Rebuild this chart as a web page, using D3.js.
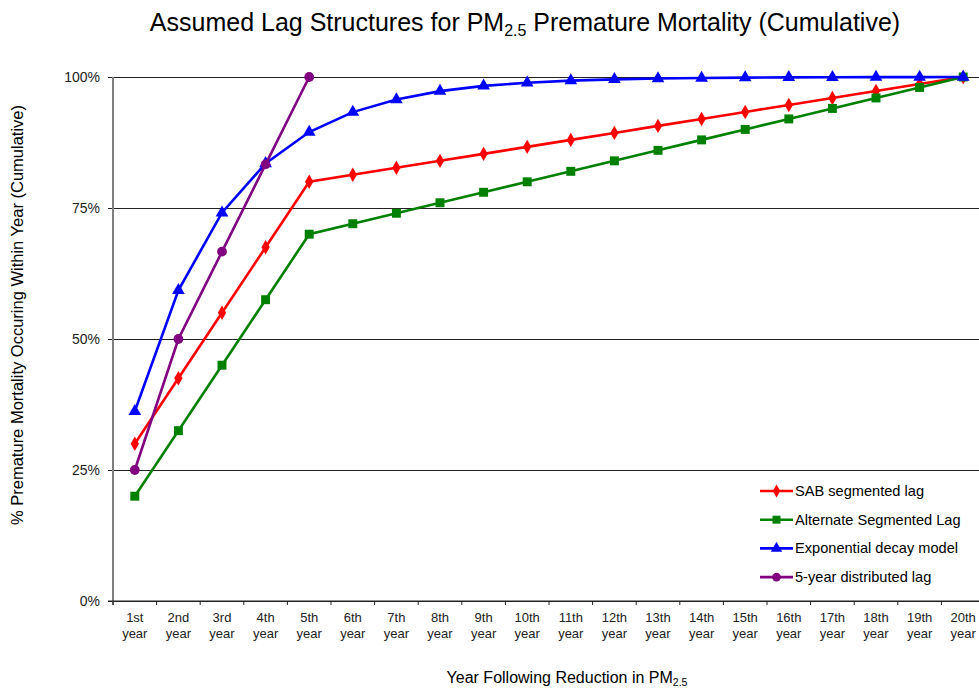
<!DOCTYPE html>
<html>
<head>
<meta charset="utf-8">
<script src="https://cdn.jsdelivr.net/npm/d3@7"></script>
<style>
  html, body { margin: 0; padding: 0; background: #fff; }
  svg { display: block; font-family: "Liberation Sans", Arial, sans-serif; }
</style>
</head>
<body>
<svg id="chart" width="979" height="690"></svg>
<script>
// Year categories along the x axis (two-line labels)
const yearOrdinals = ["1st","2nd","3rd","4th","5th","6th","7th","8th","9th","10th",
  "11th","12th","13th","14th","15th","16th","17th","18th","19th","20th"];
const yTicks = [0, 0.25, 0.5, 0.75, 1];

// Cumulative share of premature mortality by year
const sabSegmented = [0.30, 0.425, 0.55, 0.675, 0.80, 0.8133, 0.8267, 0.84, 0.8533, 0.8667,
  0.88, 0.8933, 0.9067, 0.92, 0.9333, 0.9467, 0.96, 0.9733, 0.9867, 1.00];
const altSegmented = [0.20, 0.325, 0.45, 0.575, 0.70, 0.72, 0.74, 0.76, 0.78, 0.80,
  0.82, 0.84, 0.86, 0.88, 0.90, 0.92, 0.94, 0.96, 0.98, 1.00];
const expDecay = [0.362, 0.593, 0.741, 0.835, 0.895, 0.933, 0.957, 0.973, 0.983, 0.989,
  0.993, 0.9955, 0.997, 0.998, 0.9988, 0.9993, 0.9995, 0.9997, 0.9998, 1.00];
const fiveYear = [0.25, 0.50, 0.6667, 0.8333, 1.00];

const series = [
  { name: "SAB segmented lag", values: sabSegmented, color: "#ff0000", symbol: d3.symbolDiamond, size: 60 },
  { name: "Alternate Segmented Lag", values: altSegmented, color: "#008000", symbol: d3.symbolSquare, size: 80 },
  { name: "Exponential decay model", values: expDecay, color: "#0000ff", symbol: d3.symbolTriangle, size: 70 },
  { name: "5-year distributed lag", values: fiveYear, color: "#800080", symbol: d3.symbolCircle, size: 75 }
];

const svg = d3.select("#chart");
const plotLeft = 113, plotRight = 985, plotTop = 77, plotBottom = 601;

const x = d3.scaleBand().domain(yearOrdinals).range([plotLeft, plotRight]).padding(0);
const y = d3.scaleLinear().domain([0, 1]).range([plotBottom, plotTop]);

// Title
const title = svg.append("text")
  .attr("x", 525).attr("y", 31)
  .attr("text-anchor", "middle")
  .attr("font-size", 25).attr("fill", "#000");
title.append("tspan").text("Assumed Lag Structures for PM");
title.append("tspan").attr("font-size", 16).attr("dy", 5).text("2.5");
title.append("tspan").attr("dy", -5).text(" Premature Mortality (Cumulative)");

// Horizontal gridlines with y tick labels
const yAxis = d3.axisLeft(y).tickValues(yTicks).tickFormat(d3.format(".0%"))
  .tickSize(-(plotRight - plotLeft + 6)).tickPadding(8);
const gy = svg.append("g").attr("transform", `translate(${plotLeft - 5},0)`).call(yAxis);
gy.select(".domain").remove();
gy.selectAll(".tick line").attr("stroke", "#222").attr("stroke-width", 1.2);
gy.selectAll(".tick text").attr("font-size", 14).attr("fill", "#222")
  .attr("font-family", "Liberation Sans, Arial, sans-serif");

// Vertical axis line
svg.append("line")
  .attr("x1", plotLeft).attr("x2", plotLeft).attr("y1", plotTop).attr("y2", plotBottom + 4)
  .attr("stroke", "#808080").attr("stroke-width", 2);

// Category axis
const xAxis = d3.axisBottom(x).tickSize(0).tickFormat("");
const gx = svg.append("g").attr("transform", `translate(0,${plotBottom})`).call(xAxis);
gx.select(".domain").attr("stroke", "#222").attr("stroke-width", 1.2)
  .attr("d", `M${plotLeft - 5},0H${plotRight}`);
// Ticks at category boundaries
const boundaries = yearOrdinals.map(d => x(d)).concat([plotRight]);
gx.selectAll(".bound").data(boundaries).enter().append("line")
  .attr("x1", d => d).attr("x2", d => d).attr("y1", 0).attr("y2", 4)
  .attr("stroke", "#222").attr("stroke-width", 1);
// Two-line category labels
const labels = gx.selectAll(".lab").data(yearOrdinals).enter().append("text")
  .attr("x", d => x(d) + x.bandwidth() / 2)
  .attr("text-anchor", "middle").attr("font-size", 13).attr("fill", "#222");
labels.append("tspan").attr("x", d => x(d) + x.bandwidth() / 2).attr("y", 21).text(d => d);
labels.append("tspan").attr("x", d => x(d) + x.bandwidth() / 2).attr("y", 37).text("year");

// Axis titles
const xt = svg.append("text").attr("x", 567).attr("y", 683)
  .attr("text-anchor", "middle").attr("font-size", 16).attr("fill", "#000");
xt.append("tspan").text("Year Following Reduction in PM");
xt.append("tspan").attr("font-size", 10.5).attr("dy", 3).text("2.5");

svg.append("text")
  .attr("transform", "translate(23,315) rotate(-90)")
  .attr("text-anchor", "middle").attr("font-size", 16.5).attr("fill", "#000")
  .text("% Premature Mortality Occuring Within Year (Cumulative)");

// Series lines and markers
const line = d3.line()
  .x((d, i) => x(yearOrdinals[i]) + x.bandwidth() / 2)
  .y(d => y(d));

series.forEach(s => {
  const g = svg.append("g");
  g.append("path").datum(s.values).attr("d", line)
    .attr("fill", "none").attr("stroke", s.color).attr("stroke-width", 2.6);
  g.selectAll("path.m").data(s.values).enter().append("path")
    .attr("class", "m")
    .attr("d", d3.symbol().type(s.symbol).size(s.size))
    .attr("transform", (d, i) => `translate(${x(yearOrdinals[i]) + x.bandwidth() / 2},${y(d)})`)
    .attr("fill", s.color);
});

// Legend
const legend = svg.append("g").attr("transform", "translate(760,491)");
series.forEach((s, i) => {
  const row = legend.append("g").attr("transform", `translate(0,${i * 28.7})`);
  row.append("line").attr("x1", 0).attr("x2", 33).attr("y1", 0).attr("y2", 0)
    .attr("stroke", s.color).attr("stroke-width", 2.6);
  row.append("path").attr("d", d3.symbol().type(s.symbol).size(s.size * 0.8))
    .attr("transform", "translate(16.5,0)").attr("fill", s.color);
  row.append("text").attr("x", 35).attr("y", 5).attr("font-size", 14.6)
    .attr("fill", "#000").text(s.name);
});
</script>
</body>
</html>
